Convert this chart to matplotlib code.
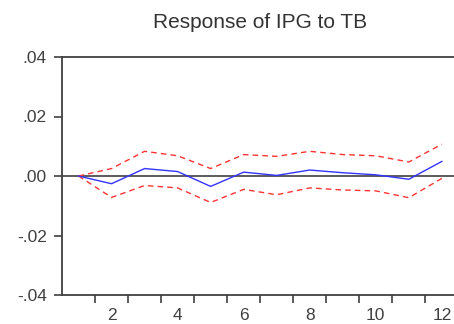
import numpy as np
import matplotlib.pyplot as plt
from matplotlib.ticker import FixedLocator, FuncFormatter

plt.rcParams["font.family"] = ["Liberation Sans", "DejaVu Sans"]

# Impulse response of IPG to a TB shock, with +/- 2 S.E. bands
periods = np.arange(1, 13)
response = [0.0, -0.0026, 0.0025, 0.0015, -0.0035, 0.0013,
            0.0002, 0.0020, 0.0011, 0.0004, -0.0011, 0.0049]
upper = [0.0, 0.0025, 0.0083, 0.0068, 0.0025, 0.0072,
         0.0066, 0.0083, 0.0072, 0.0068, 0.0047, 0.0107]
lower = [0.0, -0.0072, -0.0032, -0.0040, -0.0089, -0.0045,
         -0.0063, -0.0040, -0.0047, -0.0050, -0.0073, -0.0008]

title = "Response of IPG to TB"
y_ticks = [-0.04, -0.02, 0.0, 0.02, 0.04]


def eviews_fmt(v, _pos):
    s = f"{v:.2f}"
    return s.replace("0.", ".", 1)


fig = plt.figure(figsize=(4.54, 3.24), dpi=100)
# axes run past the right edge of the figure, so no right border shows
ax = fig.add_axes([62 / 454, 29 / 324, 398 / 454, 238 / 324])

ax.axhline(0, color="#404040", linewidth=1.2, zorder=1)
ax.plot(periods, response, color="#3333ff", linewidth=1.0, zorder=3)
ax.plot(periods, upper, color="#ff3333", linewidth=1.0,
        linestyle=(0, (4, 3)), zorder=2)
ax.plot(periods, lower, color="#ff3333", linewidth=1.0,
        linestyle=(0, (4, 3)), zorder=2)

ax.set_xlim(0.5, 12.55)
ax.set_ylim(-0.04, 0.04)

ax.yaxis.set_major_locator(FixedLocator(y_ticks))
ax.yaxis.set_major_formatter(FuncFormatter(eviews_fmt))
ax.xaxis.set_major_locator(FixedLocator([2, 4, 6, 8, 10, 12]))
ax.xaxis.set_minor_locator(FixedLocator(np.arange(1.5, 12.5, 1.0)))

ax.tick_params(axis="y", direction="out", length=6, width=1.2,
               color="#404040", labelsize=12.5, labelcolor="#404040", pad=5)
ax.tick_params(axis="x", which="major", length=0, labelsize=12.5,
               labelcolor="#404040", pad=9)
ax.tick_params(axis="x", which="minor", direction="out", length=6,
               width=1.2, color="#404040")

for side in ["left", "bottom", "top"]:
    ax.spines[side].set_color("#404040")
    ax.spines[side].set_linewidth(1.3)
ax.spines["right"].set_visible(False)

fig.text(260 / 454, 1 - 23 / 324, title, ha="center", va="center",
         fontsize=15, color="#333333")

fig.savefig("out.png", dpi=100)
